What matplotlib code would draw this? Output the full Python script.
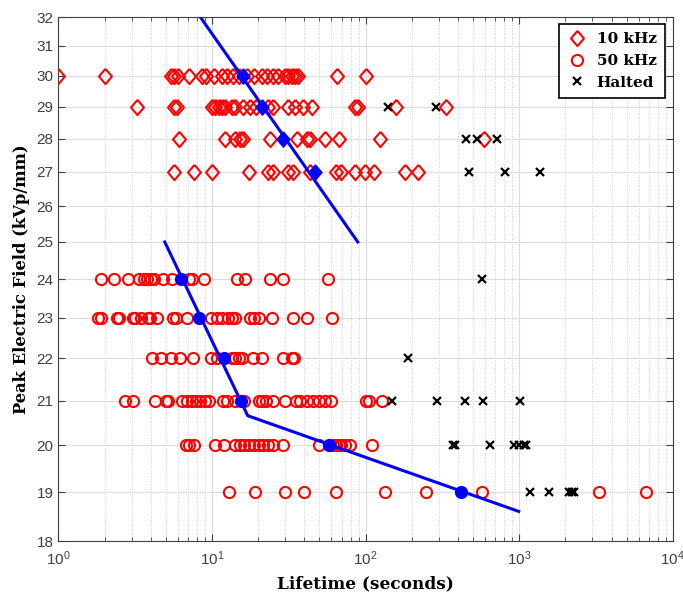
import matplotlib
matplotlib.use("Agg")
import matplotlib.pyplot as plt
from matplotlib.ticker import NullLocator, FixedLocator, FixedFormatter, LogLocator

# Lifetimes (seconds), one list per field level
# 10 kHz tests (diamonds)
life_10k_30 = [1.0, 2.0, 5.4, 5.7, 6.0, 7.1, 8.6, 9.1, 10.3, 11.6, 12.5, 13.8, 15.0, 17.0, 18.7, 21.1, 22.7,
               25.1, 27.0, 29.9, 31.4, 33.0, 34.6, 36.4, 65, 101]
life_10k_29 = [3.25, 5.7, 5.9, 10.0, 10.5, 11.1, 11.6, 12.2, 13.5, 14.2, 16.0, 17.7, 19.5, 23.3, 25.1, 31.4,
               34.6, 39.3, 44.6, 85, 89, 158, 333]
life_10k_28 = [6.1, 12.2, 14.2, 15.3, 16.0, 23.9, 35.6, 41.5, 43.5, 54.2, 67.6, 124, 589]
life_10k_27 = [5.7, 7.6, 10.0, 17.3, 23.3, 25.1, 31.4, 33.8, 43.5, 64.6, 69.6, 85, 98.5, 114, 181, 218]
fields_10k = [30, 29, 28, 27]

# 50 kHz tests (circles)
life_50k_24 = [1.9, 2.3, 2.85, 3.36, 3.6, 3.77, 4.0, 4.2, 4.83, 5.52, 7.08, 7.44, 8.85, 14.6, 16.5, 23.9,
               29.1, 56.8]
life_50k_23 = [1.82, 1.9, 2.41, 2.49, 3.04, 3.15, 3.44, 3.81, 3.96, 4.42, 5.6, 5.8, 6.9, 9.8, 10.8, 11.6,
               12.8, 13.5, 14.2, 17.7, 18.7, 20.1, 24.5, 33.8, 41.5, 60.9]
life_50k_22 = [4.1, 4.64, 5.44, 6.19, 7.57, 9.8, 10.8, 13.5, 14.2, 14.9, 15.7, 18.4, 21.1, 29.1, 33.0, 34.2]
life_50k_21 = [2.71, 3.07, 4.24, 5.0, 5.17, 6.41, 6.9, 7.44, 7.82, 8.42, 9.07, 9.54, 11.8, 12.5, 14.2, 16.2,
               20.1, 21.1, 22.5, 25.1, 29.9, 35.3, 37.3, 41.5, 45.5, 50.1, 54.2, 59.2, 101, 105, 128]
life_50k_20 = [6.74, 7.08, 7.64, 10.5, 11.9, 14.2, 15.3, 16.2, 17.3, 18.7, 20.1, 21.4, 23.3, 25.1, 29.1,
               50.1, 61.6, 64.6, 67, 69.6, 74, 79, 110]
life_50k_19 = [13.0, 19.1, 29.9, 39.9, 64.6, 133, 249, 575, 3303, 6720]
fields_50k = [24, 23, 22, 21, 20, 19]

# Halted tests (x markers)
halted_fields = [29, 29, 28, 28, 28, 27, 27, 27, 24, 22, 21, 21, 21, 21, 21,
                 20, 20, 20, 20, 20, 20, 20, 19, 19, 19, 19, 19]
halted_life = [139, 287, 449, 533, 718, 471, 813, 1371, 572, 190, 149, 290, 444, 580, 1018,
               371, 383, 650, 921, 993, 1070, 1110, 1181, 1566, 2112, 2213, 2279]

# Mean lifetime per field and fitted lines
mean_10k_life = [15.9, 21.1, 29.1, 46.8]
mean_50k_life = [6.3, 8.2, 11.9, 15.4, 57.9, 416]
fit_10k_x = [8.4, 89]
fit_10k_y = [32, 25]
fit_50k_x = [4.93, 17.1, 993]
fit_50k_y = [25, 20.66, 18.6]

y_ticks = list(range(18, 33))

plt.rcParams['font.family'] = ['Liberation Sans', 'DejaVu Sans']
plt.rcParams['mathtext.default'] = 'regular'

fig = plt.figure(figsize=(6.83, 5.93), dpi=100)
ax = fig.add_axes([0.0854, 0.0872, 0.8996, 0.8841])

diamond = [(0, 1), (0.85, 0), (0, -1), (-0.85, 0), (0, 1)]
rows_10k = [life_10k_30, life_10k_29, life_10k_28, life_10k_27]
rows_50k = [life_50k_24, life_50k_23, life_50k_22, life_50k_21, life_50k_20, life_50k_19]

for i in range(len(fields_10k)):
    ax.plot(rows_10k[i], [fields_10k[i]] * len(rows_10k[i]), linestyle='none', marker=diamond,
            markersize=11, markerfacecolor='none', markeredgecolor='red', markeredgewidth=1.5,
            label='10 kHz' if i == 0 else None, zorder=3)
for i in range(len(fields_50k)):
    ax.plot(rows_50k[i], [fields_50k[i]] * len(rows_50k[i]), linestyle='none', marker='o',
            markersize=8, markerfacecolor='none', markeredgecolor='red', markeredgewidth=1.5,
            label='50 kHz' if i == 0 else None, zorder=3)
ax.plot(halted_life, halted_fields, linestyle='none', marker='x', markersize=5.5,
        markeredgecolor='black', markeredgewidth=1.6, label='Halted', zorder=3)

# fit lines with mean points
ax.plot(fit_10k_x, fit_10k_y, color='blue', linewidth=2.2, zorder=4)
ax.plot(mean_10k_life, fields_10k, linestyle='none', marker=diamond, markersize=11,
        color='blue', zorder=5)
ax.plot(fit_50k_x, fit_50k_y, color='blue', linewidth=2.2, zorder=4)
ax.plot(mean_50k_life, fields_50k, linestyle='none', marker='o', markersize=8.5,
        color='blue', zorder=5)

ax.set_xscale('log')
ax.set_yscale('log')
ax.set_xlim(1, 1e4)
ax.set_ylim(18, 32)
ax.yaxis.set_major_locator(FixedLocator(y_ticks))
ax.yaxis.set_major_formatter(FixedFormatter([str(v) for v in y_ticks]))
ax.yaxis.set_minor_locator(NullLocator())
ax.xaxis.set_major_locator(LogLocator(base=10, numticks=10))
ax.xaxis.set_minor_locator(LogLocator(base=10, subs=range(2, 10), numticks=10))

ax.grid(True, which='major', color='#dcdcdc', linewidth=0.8, zorder=0)
ax.grid(True, which='minor', axis='x', color='#cccccc', linewidth=0.7, linestyle=':', zorder=0)
ax.set_axisbelow(True)
ax.tick_params(which='both', direction='in', top=True, right=True, colors='#404040', labelsize=11)
ax.tick_params(which='major', length=5)
ax.tick_params(which='minor', length=3)
ax.tick_params(axis='x', which='major', pad=6)
for sp in ax.spines.values():
    sp.set_color('#404040')
    sp.set_linewidth(0.8)

ax.set_xlabel('Lifetime (seconds)', family='DejaVu Serif', fontweight='bold', fontsize=12.2, labelpad=5)
ax.set_ylabel('Peak Electric Field (kVp/mm)', family='DejaVu Serif', fontweight='bold', fontsize=11.8,
              labelpad=5)

leg = ax.legend(loc='upper right', numpoints=1, fancybox=False, edgecolor='black', framealpha=1,
                prop={'family': 'DejaVu Serif', 'weight': 'bold', 'size': 11},
                borderpad=0.55, labelspacing=0.5, handlelength=1.2, handletextpad=0.7,
                borderaxespad=0, bbox_to_anchor=(0.9875, 0.9866))
leg.get_frame().set_linewidth(1.2)

fig.savefig('out.png', dpi=100)
